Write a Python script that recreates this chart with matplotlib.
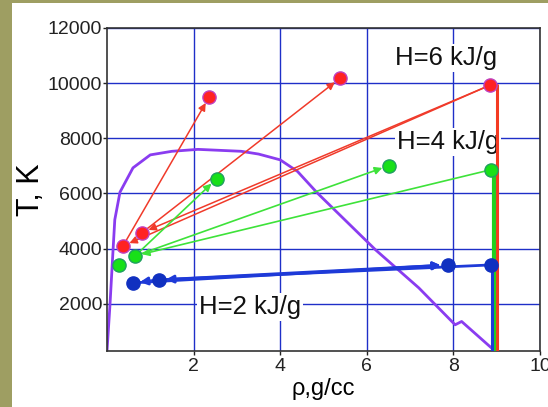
import matplotlib
matplotlib.use("Agg")
import matplotlib.pyplot as plt
from matplotlib.patches import Rectangle

plt.rcParams['font.family'] = ['Liberation Sans', 'DejaVu Sans']

# ---- data ----
red_rho = [0.37, 0.81, 2.36, 5.39, 8.85]
red_T = [4100, 4580, 9500, 10190, 9930]
red_arrows = [(4, 0), (4, 1), (0, 2), (1, 3)]

green_rho = [0.28, 0.65, 2.53, 6.51, 8.86]
green_T = [3410, 3740, 6530, 7010, 6860]
green_arrows = [(4, 1), (1, 2), (1, 3)]

blue_rho = [0.60, 1.20, 7.87, 8.86]
blue_T = [2760, 2870, 3410, 3410]
blue_arrows = [(3, 1), (1, 0), (0, 2), (1, 2)]

# isochoric heating lines (solid density)
red_iso_rho = [8.85, 9.01, 9.01]
red_iso_T = [9930, 9930, 290]
green_iso_rho = [8.86, 8.94, 8.94]
green_iso_T = [6860, 6860, 290]
blue_iso_rho = [8.86, 8.88, 8.88]
blue_iso_T = [3410, 3410, 290]

# boundary curve
curve_rho = [0.0, 0.07, 0.14, 0.18, 0.30, 0.60, 1.00, 1.50, 2.10, 3.10, 3.50, 4.00,
             4.40, 4.85, 6.20, 7.20, 8.04, 8.19, 8.88]
curve_T = [290, 2000, 3960, 5050, 6050, 6930, 7400, 7530, 7600, 7530, 7430, 7220,
           6800, 6030, 3960, 2580, 1240, 1360, 400]

labels = ["H=6 kJ/g", "H=4 kJ/g", "H=2 kJ/g"]
label_rho = [7.82, 7.88, 3.31]
label_T = [10660, 7610, 1640]

xticks = [2, 4, 6, 8, 10]
yticks = [2000, 4000, 6000, 8000, 10000, 12000]

# ---- figure ----
fig = plt.figure(figsize=(5.48, 4.07), dpi=100)
fig.patch.set_facecolor('#9e9e62')
fig.patches.append(Rectangle((12 / 548, 0), 1, 1 - 3 / 407, transform=fig.transFigure,
                             facecolor='white', edgecolor='none', zorder=-10))

ax = fig.add_axes([107 / 548, 1 - 351 / 407, 433 / 548, 323 / 407])
ax.set_facecolor('white')
ax.set_xlim(0, 10)
ax.set_ylim(290, 12000)
ax.set_xticks(xticks)
ax.set_yticks(yticks)
ax.tick_params(labelsize=14, direction='out', length=3, width=1, pad=0.5, colors='#222222')
ax.tick_params(axis='x', pad=2)
ax.grid(True, color='#1f2fc8', lw=1.0)
ax.set_axisbelow(True)
for s in ax.spines.values():
    s.set_color('#333333')
    s.set_linewidth(1.2)

ax.plot(curve_rho, curve_T, color='#8a3cf0', lw=2.0, zorder=2)

def draw_set(rho, T, arrows, color, lw, mcolor, medge, iso_rho, iso_T, iso_lw, iso_color):
    ax.plot(iso_rho, iso_T, color=iso_color, lw=iso_lw, zorder=3, solid_capstyle='butt')
    for a, b in arrows:
        ax.annotate('', xy=(rho[b], T[b]), xytext=(rho[a], T[a]),
                    arrowprops=dict(arrowstyle='-|>', color=color, lw=lw,
                                    mutation_scale=11, shrinkA=0, shrinkB=5),
                    zorder=4)
    ax.plot(rho, T, 'o', ms=9.5, color=mcolor, mec=medge, mew=1.0, zorder=5)

draw_set(red_rho, red_T, red_arrows, '#f03a2a', 1.1, '#ff2222', '#c040c0',
         red_iso_rho, red_iso_T, 2.2, '#f43a22')
draw_set(green_rho, green_T, green_arrows, '#3ee23a', 1.2, '#18e018', '#20a060',
         green_iso_rho, green_iso_T, 3.0, '#20d020')
draw_set(blue_rho, blue_T, blue_arrows, '#1e3ad8', 2.0, '#1030c0', '#1030c0',
         blue_iso_rho, blue_iso_T, 2.2, '#1e3ad8')

for txt, x, y in zip(labels, label_rho, label_T):
    ax.text(x, y, txt, fontsize=18.5, ha='center', va='baseline', color='#111111',
            zorder=1.5, bbox=dict(facecolor='white', edgecolor='none', pad=1.5))

ax.set_ylabel('T, K', fontsize=22, labelpad=1)
ax.set_xlabel('ρ,g/cc', fontsize=17, labelpad=2)

fig.savefig('out.png', dpi=100, facecolor=fig.get_facecolor())
